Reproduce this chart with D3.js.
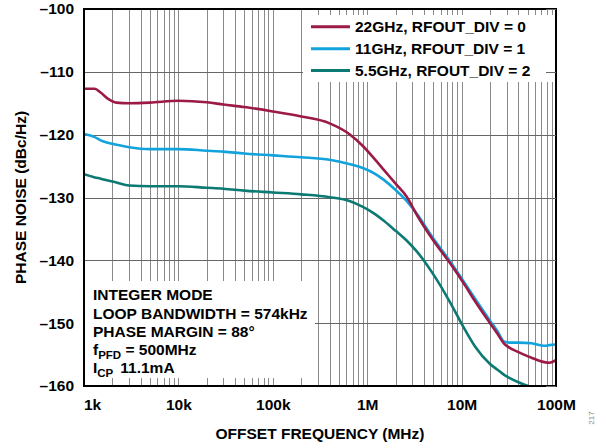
<!DOCTYPE html>
<html><head><meta charset="utf-8">
<script src="https://cdn.jsdelivr.net/npm/d3@7"></script>
<style>
body{margin:0;background:#fff}
text{font-family:"Liberation Sans",Arial,Helvetica,sans-serif;font-weight:bold;fill:#000}
</style>
</head><body>
<svg id="chart" width="600" height="446"></svg>
<script>
// ---- data ----
const freqHz = [1e3,1.3e3,1.5e3,1.8e3,2.2e3,3e3,5e3,1e4,2e4,3e4,5e4,1e5,2e5,4e5,6.6e5,9e5,1.2e6,1.5e6,2e6,2.6e6,3.4e6,5e6,7.5e6,1.1e7,1.4e7,2e7,2.4e7,2.8e7,3.2e7,4e7,5.5e7,7.5e7,8.5e7,1e8];
const pn22GHz = [-112.7,-112.7,-113.3,-114.3,-114.9,-115.0,-114.9,-114.6,-114.85,-115.2,-115.6,-116.3,-117.1,-118.2,-120.0,-121.8,-123.9,-125.6,-127.8,-129.8,-132.9,-136.8,-140.4,-144.1,-146.6,-150.0,-151.7,-153.2,-153.9,-154.6,-155.5,-156.2,-156.3,-155.9];
const pn11GHz = [-119.9,-120.4,-120.9,-121.3,-121.6,-122.0,-122.3,-122.3,-122.55,-122.7,-123.0,-123.3,-123.6,-124.0,-124.7,-125.3,-126.2,-127.2,-128.8,-130.5,-132.7,-136.5,-140.1,-143.8,-146.2,-149.6,-151.3,-152.9,-153.1,-153.1,-153.2,-153.6,-153.5,-153.4];
const pn5p5GHz = [-126.3,-126.8,-127.0,-127.3,-127.6,-128.1,-128.2,-128.2,-128.45,-128.6,-128.9,-129.2,-129.5,-129.95,-130.6,-131.5,-132.6,-133.7,-135.3,-136.8,-138.7,-142.2,-146.6,-151.2,-153.8,-156.5,-157.4,-158.2,-158.7,-159.4,-160.2];
const seriesNames = ["22GHz, RFOUT_DIV = 0","11GHz, RFOUT_DIV = 1","5.5GHz, RFOUT_DIV = 2"];
const seriesColors = ["#9c1a46","#12a3dc","#0b7a72"];
const xTickValues = [1e3,1e4,1e5,1e6,1e7,1e8];
const xTickLabels = ["1k","10k","100k","1M","10M","100M"];
const yTickValues = [-100,-110,-120,-130,-140,-150,-160];
const yTickLabels = ["\u2013100","\u2013110","\u2013120","\u2013130","\u2013140","\u2013150","\u2013160"];
const xTitle = "OFFSET FREQUENCY (MHz)";
const yTitle = "PHASE NOISE (dBc/Hz)";

// ---- layout ----
const L=84, R=556, T=9, B=386;
const svg = d3.select("#chart");
const x = d3.scaleLog().domain([1e3,1e8]).range([L,R]);
const y = d3.scaleLinear().domain([-160,-100]).range([B,T]);

// grid
const grid = svg.append("g");
grid.append("g").attr("transform",`translate(0,${B})`)
  .call(d3.axisBottom(x).tickValues(x.ticks()).tickSize(-(B-T)).tickFormat(""))
  .call(g=>{g.select(".domain").remove();g.selectAll("line").attr("stroke","#8a8a8a").attr("stroke-width",1).attr("shape-rendering","crispEdges");});
grid.append("g").attr("transform",`translate(${L},0)`)
  .call(d3.axisLeft(y).tickValues(yTickValues).tickSize(-(R-L)).tickFormat(""))
  .call(g=>{g.select(".domain").remove();g.selectAll("line").attr("stroke","#666").attr("stroke-width",1).attr("shape-rendering","crispEdges");});

// boxes masking grid
svg.append("rect").attr("x",303).attr("y",15).attr("width",250).attr("height",67).attr("fill","#fff");
svg.append("rect").attr("x",L+1).attr("y",281).attr("width",230).attr("height",97).attr("fill","#fff");

// curves
svg.append("clipPath").attr("id","clip").append("rect").attr("x",L).attr("y",T).attr("width",R-L).attr("height",B-T);
const line = d3.line().x(d=>x(d[0])).y(d=>y(d[1])).curve(d3.curveMonotoneX);
const allSeries = [pn22GHz,pn11GHz,pn5p5GHz];
const drawOrder = [2,1,0];
drawOrder.forEach(i=>{
  const pts = allSeries[i].map((v,k)=>[freqHz[k],v]);
  svg.append("path").datum(pts).attr("d",line).attr("fill","none")
    .attr("stroke",seriesColors[i]).attr("stroke-width",2.6).attr("stroke-linejoin","round")
    .attr("clip-path","url(#clip)");
});

// frame
svg.append("rect").attr("x",L).attr("y",T).attr("width",R-L).attr("height",B-T)
  .attr("fill","none").attr("stroke","#000").attr("stroke-width",2);
// inner ticks on the right
svg.append("g").attr("transform",`translate(${R},0)`)
  .call(d3.axisLeft(y).tickValues(yTickValues).tickSize(10).tickFormat(""))
  .call(g=>{g.select(".domain").remove();g.selectAll("line").attr("stroke","#666").attr("shape-rendering","crispEdges");});

// axis labels
const fs = "15.5px";
svg.append("g").attr("transform",`translate(0,${B})`)
  .call(d3.axisBottom(x).tickValues(xTickValues).tickSize(0).tickPadding(0).tickFormat((d,i)=>xTickLabels[i]))
  .call(g=>{g.select(".domain").remove();
    g.selectAll("text").attr("font-size",fs).attr("font-family",null).attr("y",24).attr("dy",0)
     .attr("dx",(d,i)=>i===0?8:0);});
svg.append("g").attr("transform",`translate(${L},0)`)
  .call(d3.axisLeft(y).tickValues(yTickValues).tickSize(0).tickPadding(10).tickFormat((d,i)=>yTickLabels[i]))
  .call(g=>{g.select(".domain").remove();g.selectAll("text").attr("font-size",fs).attr("font-family",null);});

svg.append("text").attr("x",(L+R)/2).attr("y",439).attr("text-anchor","middle").attr("font-size",fs).text(xTitle);
svg.append("text").attr("transform",`translate(26,${(T+B)/2}) rotate(-90)`).attr("text-anchor","middle").attr("font-size",fs).text(yTitle);

// legend
const legY = [26.7,48.7,70.5];
seriesNames.forEach((n,i)=>{
  svg.append("line").attr("x1",311).attr("x2",350).attr("y1",legY[i]).attr("y2",legY[i])
    .attr("stroke",seriesColors[i]).attr("stroke-width",3);
  svg.append("text").attr("x",355).attr("y",legY[i]+5.5).attr("font-size",fs).text(n);
});

// annotation
const ann = svg.append("g").attr("font-size",fs);
ann.append("text").attr("x",93).attr("y",300).attr("font-size",fs).text("INTEGER MODE");
ann.append("text").attr("x",93).attr("y",319).attr("font-size",fs).text("LOOP BANDWIDTH = 574kHz");
ann.append("text").attr("x",93).attr("y",337).attr("font-size",fs).text("PHASE MARGIN = 88\u00B0");
const t4 = ann.append("text").attr("x",93).attr("y",355).attr("font-size",fs);
t4.append("tspan").text("f");
t4.append("tspan").attr("font-size","11.5px").attr("dy",4).text("PFD");
t4.append("tspan").attr("dy",-4).text(" = 500MHz");
const t5 = ann.append("text").attr("x",93).attr("y",373).attr("font-size",fs);
t5.append("tspan").text("I");
t5.append("tspan").attr("font-size","11.5px").attr("dy",4).text("CP");
t5.append("tspan").attr("dy",-4).attr("dx",7).text("11.1mA");

// figure id
svg.append("text").attr("transform","translate(594,418) rotate(-90)").attr("text-anchor","middle")
  .attr("font-size","8px").style("font-weight","normal").style("fill","#888").text("217");
</script>
</body></html>
